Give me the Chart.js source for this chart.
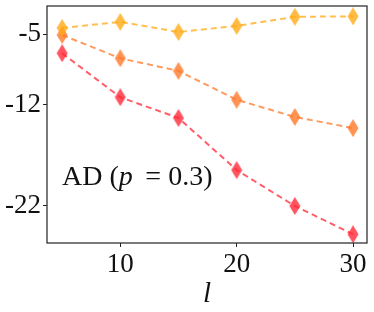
<!DOCTYPE html>
<html>
<head>
<meta charset="utf-8">
<script src="https://cdn.jsdelivr.net/npm/chart.js@4"></script>
<style>
  html, body { margin: 0; padding: 0; background: #fff; }
  #wrap { width: 374px; height: 312px; }
</style>
</head>
<body>
<div id="wrap"><canvas id="chart" width="374" height="312"></canvas></div>
<script>
// ── Data ──────────────────────────────────────────────────
const L_VALUES   = [5, 10, 15, 20, 25, 30];
const SERIES_TOP = [-4.4, -3.8, -4.8, -4.2, -3.3, -3.25];
const SERIES_MID = [-5.1, -7.4, -8.65, -11.5, -13.2, -14.3];
const SERIES_LOW = [-6.9, -11.25, -13.3, -18.45, -22.0, -24.8];
const Y_TICKS    = [-5, -12, -22];
const X_TICKS    = [10, 20, 30];

const SERIF = "'Liberation Serif', 'DejaVu Serif', serif";

// ── Thin diamond marker (like matplotlib 'd') ─────────────
function thinDiamond(color) {
  const c = document.createElement('canvas');
  c.width = 12; c.height = 18;
  const g = c.getContext('2d');
  g.fillStyle = color;
  g.beginPath();
  g.moveTo(6, 0); g.lineTo(11.5, 9); g.lineTo(6, 18); g.lineTo(0.5, 9);
  g.closePath();
  g.fill();
  return c;
}

function makeSet(values, rgb) {
  return {
    data: values,
    borderColor: 'rgba(' + rgb + ',0.75)',
    backgroundColor: 'rgba(' + rgb + ',0.75)',
    borderWidth: 2,
    borderDash: [6, 4],
    pointStyle: thinDiamond('rgba(' + rgb + ',0.8)'),
    pointRadius: 9,
    tension: 0,
    clip: false,
  };
}

// ── Frame + annotation plugin ─────────────────────────────
const framePlugin = {
  id: 'frame',
  afterDraw(chart) {
    const { ctx, chartArea: a } = chart;
    ctx.save();
    ctx.strokeStyle = '#222';
    ctx.lineWidth = 1.2;
    ctx.strokeRect(a.left, a.top, a.right - a.left, a.bottom - a.top);

    // "AD (p = 0.3)"
    ctx.fillStyle = '#111';
    ctx.textBaseline = 'middle';
    let x = a.left + 15;
    const y = 178;
    const parts = [
      ['AD (', 'normal'], ['p', 'italic'], ['\u2009 = 0.3)', 'normal']
    ];
    parts.forEach(([t, style]) => {
      ctx.font = style + ' 28px ' + SERIF;
      ctx.fillText(t, x, y);
      x += ctx.measureText(t).width;
    });
    ctx.restore();
  }
};

new Chart(document.getElementById('chart'), {
  type: 'line',
  data: {
    labels: L_VALUES,
    datasets: [
      makeSet(SERIES_TOP, '255,170,20'),
      makeSet(SERIES_MID, '255,120,40'),
      makeSet(SERIES_LOW, '255,40,55'),
    ]
  },
  options: {
    responsive: false,
    animation: false,
    layout: { autoPadding: false, padding: { top: 6, right: 7, left: 0, bottom: 0 } },
    plugins: { legend: { display: false }, tooltip: { enabled: false } },
    scales: {
      x: {
        type: 'linear',
        min: 3.7, max: 31.2,
        afterBuildTicks: (s) => { s.ticks = X_TICKS.map(v => ({ value: v })); },
        afterFit: (s) => { s.height = 69; s.paddingLeft = 0; s.paddingRight = 0; },
        grid: { display: true, drawOnChartArea: false, tickLength: 4, color: '#222' },
        border: { display: false },
        ticks: { color: '#111', font: { family: SERIF, size: 27 }, padding: 2, maxRotation: 0 },
        title: { display: true, text: 'l', color: '#111', padding: 0,
                 font: { family: SERIF, size: 29, style: 'italic' } }
      },
      y: {
        min: -25.66, max: -2.23,
        afterBuildTicks: (s) => { s.ticks = Y_TICKS.map(v => ({ value: v })); },
        afterFit: (s) => { s.width = 47; s.paddingTop = 0; s.paddingBottom = 0; },
        grid: { display: true, drawOnChartArea: false, tickLength: 4, color: '#222' },
        border: { display: false },
        ticks: { color: '#111', font: { family: SERIF, size: 27 }, padding: 2,
                 callback: (v) => String(v) }
      }
    }
  },
  plugins: [framePlugin]
});
</script>
</body>
</html>
